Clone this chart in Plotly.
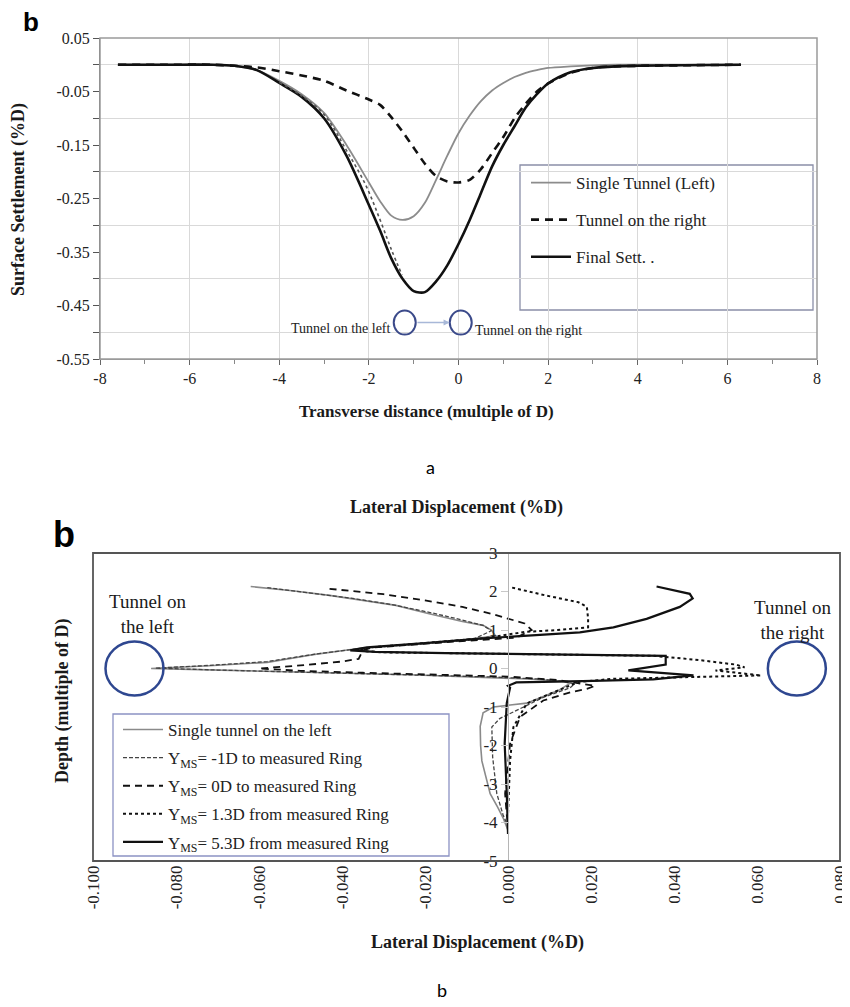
import plotly.graph_objects as go

W, H = 850, 1007
PAGE_OFFSET = 8  # the html body margin shifts the figure by this many pixels

# ---------------- Panel a : surface settlement ----------------
transverse_x = [-7.6, -6.5, -5.5, -5, -4.5, -4, -3.5, -3, -2.5, -2, -1.75, -1.5, -1.25, -1,
                -0.75, -0.5, -0.25, 0, 0.25, 0.5, 0.75, 1, 1.25, 1.5, 1.75, 2, 2.5, 3, 3.5, 4, 5, 6.3]
single_tunnel_left = [0, 0, 0, -0.002, -0.01, -0.03, -0.055, -0.09, -0.15, -0.22, -0.255, -0.282,
                      -0.29, -0.283, -0.258, -0.215, -0.17, -0.128, -0.095, -0.068, -0.048, -0.034,
                      -0.023, -0.015, -0.01, -0.006, -0.003, -0.001, 0, 0, 0, 0]
tunnel_on_right = [0, 0, 0, -0.002, -0.005, -0.012, -0.02, -0.03, -0.048, -0.065, -0.075, -0.098,
                   -0.125, -0.155, -0.185, -0.208, -0.218, -0.22, -0.215, -0.195, -0.165, -0.135,
                   -0.1, -0.073, -0.05, -0.035, -0.015, -0.006, -0.003, -0.002, -0.001, 0]
final_sett = [0, 0, 0, -0.002, -0.01, -0.034, -0.06, -0.1, -0.17, -0.262, -0.31, -0.362, -0.4,
              -0.423, -0.425, -0.405, -0.375, -0.335, -0.29, -0.24, -0.19, -0.15, -0.115, -0.08,
              -0.055, -0.035, -0.014, -0.006, -0.003, -0.002, -0.001, 0]
dotted_x = [-4.0, -3.5, -3.0, -2.5, -2.07, -1.75, -1.5, -1.26]
dotted_y = [-0.033, -0.058, -0.093, -0.16, -0.225, -0.29, -0.345, -0.393]

a_x_ticks = [-8, -6, -4, -2, 0, 2, 4, 6, 8]
a_x_labels = ["-8", "-6", "-4", "-2", "0", "2", "4", "6", "8"]
a_y_ticks = [0.05, -0.05, -0.15, -0.25, -0.35, -0.45, -0.55]
a_y_labels = ["0.05", "-0.05", "-0.15", "-0.25", "-0.35", "-0.45", "-0.55"]
a_y_grid = [0, -0.1, -0.2, -0.3, -0.4, -0.5]

a_tunnel_left = (-1.2, -0.482)
a_tunnel_right = (0.05, -0.482)

# ---------------- Panel b : lateral displacement ----------------
single_left_x = [-0.062, -0.052, -0.043, -0.035, -0.027, -0.019, -0.011, -0.006, -0.004, -0.003,
                 -0.012, -0.024, -0.036, -0.047, -0.058, -0.072, -0.086, -0.072, -0.058, -0.040,
                 -0.022, -0.006, 0.006, 0.013, 0.015, 0.0125, 0.0085, 0.0045, -0.0035, -0.006,
                 -0.0067, -0.0066, -0.0063, -0.0053, -0.0043, -0.0025, -0.0011, 0.0]
single_left_y = [2.13, 2.02, 1.90, 1.77, 1.64, 1.42, 1.22, 1.12, 1.00, 0.85, 0.72, 0.62, 0.52,
                 0.36, 0.16, 0.07, 0.00, -0.035, -0.07, -0.11, -0.17, -0.23, -0.28, -0.33, -0.38,
                 -0.55, -0.72, -0.90, -1.00, -1.15, -1.50, -2.0, -2.4, -2.8, -3.25, -3.6, -3.9, -4.2]

ms_m1_x = [-0.058, -0.048, -0.038, -0.028, -0.019, -0.011, -0.006, -0.004, -0.008, -0.020,
           -0.034, -0.046, -0.058, -0.072, -0.085, -0.070, -0.055, -0.038, -0.020, -0.004,
           0.007, 0.013, 0.016, 0.015, 0.0085, 0.0021, -0.002, -0.0039, -0.0037, -0.0027,
           -0.0012, 0.0]
ms_m1_y = [2.10, 1.97, 1.83, 1.66, 1.46, 1.26, 1.12, 0.98, 0.78, 0.66, 0.54, 0.38, 0.18, 0.08,
           0.01, -0.04, -0.08, -0.12, -0.17, -0.22, -0.27, -0.33, -0.40, -0.5, -0.75, -1.09,
           -1.3, -1.52, -2.3, -3.25, -3.8, -4.1]

ms_0_x = [-0.043, -0.03, -0.02, -0.011, -0.004, 0.004, 0.0057, 0.002, -0.01, -0.022, -0.033,
          -0.035, -0.036, -0.040, -0.050, -0.060, -0.050, -0.035, -0.018, 0.0, 0.012, 0.021,
          0.019, 0.015, 0.0085, 0.0029, 0.0005, -0.0007, -0.0003, 0.0]
ms_0_y = [2.07, 1.93, 1.77, 1.60, 1.42, 1.17, 1.00, 0.80, 0.72, 0.62, 0.54, 0.47, 0.25, 0.18,
          0.08, 0.0, -0.06, -0.11, -0.16, -0.21, -0.30, -0.45, -0.53, -0.62, -0.83, -1.26,
          -1.95, -3.25, -3.8, -4.0]

ms_13_x = [0.001, 0.009, 0.017, 0.019, 0.0193, 0.0193, 0.012, 0.004, -0.006, -0.02, -0.033,
           -0.036, -0.030, -0.015, 0.0, 0.018, 0.035, 0.046, 0.055, 0.057, 0.050, 0.061, 0.047,
           0.025, 0.017, 0.015, 0.0045, 0.0013, 0.0005, 0.0, 0.0]
ms_13_y = [2.10, 1.90, 1.72, 1.60, 1.30, 1.07, 1.00, 0.95, 0.78, 0.66, 0.55, 0.46, 0.42, 0.40,
           0.38, 0.36, 0.33, 0.22, 0.10, 0.03, -0.05, -0.18, -0.22, -0.27, -0.35, -0.44, -0.91,
           -1.52, -2.4, -3.8, -4.1]

ms_53_x = [0.0358, 0.040, 0.0438, 0.0445, 0.0414, 0.0334, 0.0254, 0.0173, 0.0053, -0.006, -0.02,
           -0.034, -0.038, -0.032, -0.015, 0.005, 0.025, 0.038, 0.038, 0.029, 0.0447, 0.035,
           0.018, 0.002, 0.0, 0.0005, -0.0003, -0.0008, -0.0003, 0.0]
ms_53_y = [2.13, 2.03, 1.94, 1.82, 1.60, 1.29, 1.07, 0.94, 0.86, 0.78, 0.66, 0.55, 0.47, 0.43,
           0.40, 0.38, 0.35, 0.33, 0.10, -0.05, -0.18, -0.28, -0.33, -0.36, -0.45, -0.5, -0.9,
           -1.95, -3.25, -4.3]

b_x_ticks = [-0.1, -0.08, -0.06, -0.04, -0.02, 0.0, 0.02, 0.04, 0.06, 0.08]
b_x_labels = ["-0.100", "-0.080", "-0.060", "-0.040", "-0.020", "0.000", "0.020", "0.040",
              "0.060", "0.080"]
b_y_ticks = [3, 2, 1, 0, -1, -2, -3, -4, -5]
b_y_labels = ["3", "2", "1", "0", "-1", "-2", "-3", "-4", "-5"]

b_tunnel_left = (-0.090, 0.0)
b_tunnel_right = (0.0696, 0.0)

# ---------------- helpers ----------------
SERIF = "Liberation Serif, Times New Roman, serif"
SANS = "Liberation Sans, Arial, sans-serif"


def px(x):
    return (x - PAGE_OFFSET) / W


def py(y):
    return 1 - (y - PAGE_OFFSET) / H


fig = go.Figure()

# Panel a traces
fig.add_trace(go.Scatter(x=transverse_x, y=single_tunnel_left, mode="lines",
                         name="Single Tunnel (Left)", line=dict(color="#8c8c8c", width=1.8, shape="spline", smoothing=0.8),
                         xaxis="x", yaxis="y", legend="legend", legendgroup="a1"))
fig.add_trace(go.Scatter(x=transverse_x, y=tunnel_on_right, mode="lines",
                         name="Tunnel on the right", line=dict(color="#111111", width=2.6, dash="8px,6px", shape="spline", smoothing=0.8),
                         xaxis="x", yaxis="y", legend="legend", legendgroup="a2"))
fig.add_trace(go.Scatter(x=transverse_x, y=final_sett, mode="lines",
                         name="Final Sett. .", line=dict(color="#111111", width=2.6, shape="spline", smoothing=0.8),
                         xaxis="x", yaxis="y", legend="legend", legendgroup="a3"))
fig.add_trace(go.Scatter(x=dotted_x, y=dotted_y, mode="lines", showlegend=False,
                         line=dict(color="#555555", width=1.6, dash="dot", shape="spline"),
                         xaxis="x", yaxis="y"))

# Panel b traces
fig.add_trace(go.Scatter(x=single_left_x, y=single_left_y, mode="lines",
                         name="Single tunnel on the left", line=dict(color="#8a8a8a", width=1.6),
                         xaxis="x2", yaxis="y2", legend="legend2", legendgroup="b1"))
fig.add_trace(go.Scatter(x=ms_m1_x, y=ms_m1_y, mode="lines",
                         name="Y<sub>MS</sub>= -1D to measured Ring",
                         line=dict(color="#444444", width=1.3, dash="4px,2px"),
                         xaxis="x2", yaxis="y2", legend="legend2", legendgroup="b2"))
fig.add_trace(go.Scatter(x=ms_0_x, y=ms_0_y, mode="lines",
                         name="Y<sub>MS</sub>= 0D to measured Ring",
                         line=dict(color="#111111", width=1.8, dash="7px,5px"),
                         xaxis="x2", yaxis="y2", legend="legend2", legendgroup="b3"))
fig.add_trace(go.Scatter(x=ms_13_x, y=ms_13_y, mode="lines",
                         name="Y<sub>MS</sub>= 1.3D from measured Ring",
                         line=dict(color="#111111", width=2, dash="dot"),
                         xaxis="x2", yaxis="y2", legend="legend2", legendgroup="b4"))
fig.add_trace(go.Scatter(x=ms_53_x, y=ms_53_y, mode="lines",
                         name="Y<sub>MS</sub>= 5.3D from measured Ring",
                         line=dict(color="#111111", width=2.2),
                         xaxis="x2", yaxis="y2", legend="legend2", legendgroup="b5"))

shapes = []
# plot borders
shapes.append(dict(type="rect", xref="x domain", yref="y domain", x0=0, x1=1, y0=0, y1=1,
                   line=dict(color="#9a9a9a", width=1.5), layer="above"))
shapes.append(dict(type="rect", xref="x2 domain", yref="y2 domain", x0=0, x1=1, y0=0, y1=1,
                   line=dict(color="#555555", width=1.8), layer="above"))
# legend boxes
shapes.append(dict(type="rect", xref="paper", yref="paper", x0=px(520), x1=px(813),
                   y0=py(310), y1=py(165), line=dict(color="#8a8fa8", width=1.3),
                   fillcolor="white", layer="below"))
shapes.append(dict(type="rect", xref="paper", yref="paper", x0=px(113), x1=px(449),
                   y0=py(856), y1=py(714), line=dict(color="#8c92c4", width=1.3),
                   fillcolor="white", layer="below"))
# tunnel circles panel a
for cx, cy in (a_tunnel_left, a_tunnel_right):
    shapes.append(dict(type="circle", xref="x", yref="y", xsizemode="pixel", ysizemode="pixel",
                       xanchor=cx, yanchor=cy, x0=-11, x1=11, y0=-12, y1=12,
                       line=dict(color="#3b4a8a", width=2)))
# tunnel circles panel b
for cx, cy in (b_tunnel_left, b_tunnel_right):
    shapes.append(dict(type="circle", xref="x2", yref="y2", xsizemode="pixel", ysizemode="pixel",
                       xanchor=cx, yanchor=cy, x0=-29, x1=29, y0=-27, y1=27,
                       line=dict(color="#2e4790", width=2.5)))

annotations = []


def ann(text, x, y, size, family=SERIF, angle=0, xanchor="center", yanchor="middle", color="#1a1a1a"):
    annotations.append(dict(text=text, x=px(x), y=py(y), xref="paper", yref="paper",
                            showarrow=False, textangle=angle, xanchor=xanchor, yanchor=yanchor,
                            font=dict(family=family, size=size, color=color)))


ann("<b>b</b>", 31, 22, 26, family=SANS, color="#000")
ann("<b>Surface Settlement (%D)</b>", 19, 200, 18, angle=-90)
ann("<b>Transverse distance (multiple of D)</b>", 426, 412, 17)
ann("a", 430, 467, 18, family="Lato, Liberation Sans, sans-serif", color="#000")
ann("<b>Lateral Displacement (%D)</b>", 456, 508, 18)
ann("<b>b</b>", 64, 534, 36, family=SANS, color="#000")
ann("<b>Depth (multiple of D)</b>", 62, 700, 18, angle=-90)
ann("<b>Lateral Displacement (%D)</b>", 477, 942, 18)
ann("b", 442, 990, 18, family="Lato, Liberation Sans, sans-serif", color="#000")
ann("Tunnel on<br>the left", 147, 614, 19)
ann("Tunnel on<br>the right", 792, 620, 19)

# tunnel labels panel a
annotations.append(dict(text="Tunnel on the left", x=a_tunnel_left[0], y=a_tunnel_left[1],
                        xref="x", yref="y", showarrow=False, xanchor="right", yanchor="middle",
                        xshift=-12, yshift=-6, font=dict(family=SERIF, size=14, color="#222")))
annotations.append(dict(text="Tunnel on the right", x=a_tunnel_right[0], y=a_tunnel_right[1],
                        xref="x", yref="y", showarrow=False, xanchor="left", yanchor="middle",
                        xshift=12, yshift=-8, font=dict(family=SERIF, size=14, color="#222")))
annotations.append(dict(text="", x=a_tunnel_right[0] - 0.25, y=a_tunnel_right[1],
                        ax=a_tunnel_left[0] + 0.25, ay=a_tunnel_left[1], xref="x", yref="y",
                        axref="x", ayref="y", showarrow=True, arrowhead=2, arrowsize=0.8,
                        arrowwidth=1.5, arrowcolor="#a8b8d8"))

fig.update_layout(
    width=W, height=H, autosize=False,
    margin=dict(l=0, r=0, t=0, b=0, pad=0, autoexpand=False),
    paper_bgcolor="white", plot_bgcolor="rgba(0,0,0,0)",
    shapes=shapes, annotations=annotations,
    xaxis=dict(domain=[px(100), px(817)], anchor="y", range=[-8, 8], automargin=False,
               tickmode="array", tickvals=a_x_ticks, ticktext=a_x_labels,
               showgrid=True, gridcolor="#d9d9d9", gridwidth=1, zeroline=False,
               showline=True, linecolor="#9a9a9a", ticks="outside", ticklen=5, tickcolor="#666",
               minor=dict(tickvals=[-7, -5, -3, -1, 1, 3, 5, 7], ticks="outside", ticklen=4,
                          tickcolor="#888", showgrid=False),
               tickfont=dict(family=SERIF, size=16, color="#222")),
    yaxis=dict(domain=[py(359), py(38)], anchor="x", range=[-0.55, 0.05], automargin=False,
               tickmode="array", tickvals=a_y_ticks, ticktext=a_y_labels,
               showgrid=False, zeroline=False, showline=True, linecolor="#777",
               ticks="outside", ticklen=6, tickcolor="#555",
               minor=dict(tickvals=a_y_grid, ticks="outside", ticklen=6, tickcolor="#555",
                          showgrid=True, gridcolor="#d9d9d9", gridwidth=1),
               tickfont=dict(family=SERIF, size=16, color="#222")),
    xaxis2=dict(domain=[px(93), px(840)], anchor="y2", range=[-0.1, 0.08], automargin=False,
                tickmode="array", tickvals=b_x_ticks, ticktext=b_x_labels, tickangle=-90,
                showgrid=False, zeroline=False, showline=False, ticks="",
                tickfont=dict(family=SERIF, size=17, color="#222")),
    yaxis2=dict(domain=[py(861), py(553)], anchor="free", position=px(508), range=[-5, 3],
                automargin=False,
                tickmode="array", tickvals=b_y_ticks, ticktext=b_y_labels,
                showgrid=False, zeroline=False, showline=True, linecolor="#b5b5b5", linewidth=1,
                ticks="outside", ticklen=7, tickcolor="#c8c8c8",
                tickfont=dict(family=SERIF, size=17, color="#222")),
    legend=dict(x=px(526), y=py(165), xanchor="left", yanchor="top", bgcolor="rgba(0,0,0,0)",
                borderwidth=0, font=dict(family=SERIF, size=17, color="#222"),
                tracegroupgap=12, itemwidth=40),
    legend2=dict(x=px(118), y=py(712), xanchor="left", yanchor="top", bgcolor="rgba(0,0,0,0)",
                 borderwidth=0, font=dict(family=SERIF, size=17, color="#222"),
                 tracegroupgap=3, itemwidth=40),
)

fig.write_html("out.html")
